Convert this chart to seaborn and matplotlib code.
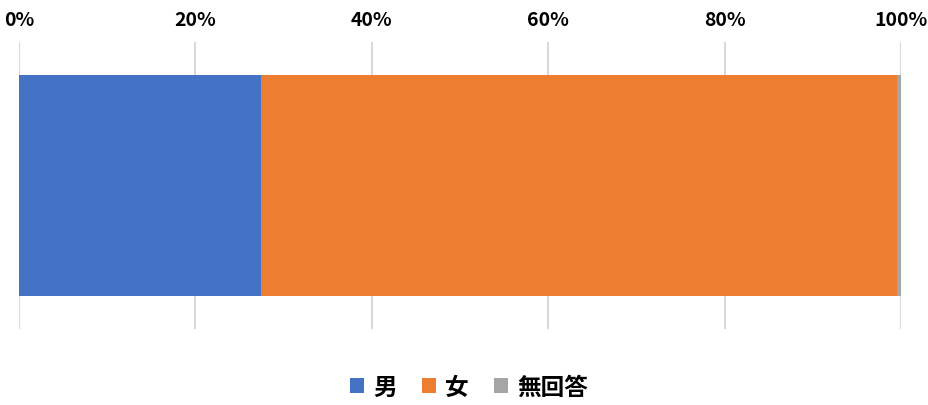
import numpy as np
import pandas as pd
import matplotlib
matplotlib.use("Agg")
import matplotlib.pyplot as plt
import seaborn as sns
from matplotlib.ticker import PercentFormatter
from matplotlib.patches import Patch

# data (share of respondents, %)
categories = ["男", "女", "無回答"]
shares = [27.4, 72.2, 0.4]
colors = ["#4472C4", "#ED7D31", "#A5A5A5"]
ticks = [0, 20, 40, 60, 80, 100]

sns.set_theme(style="white")
plt.rcParams['font.family'] = ['Noto Sans CJK JP', 'DejaVu Sans']
plt.rcParams['text.color'] = 'black'
plt.rcParams['xtick.color'] = 'black'

fig = plt.figure(figsize=(9.29, 4.06), dpi=100)
ax = fig.add_axes([19 / 929, 1 - 330 / 406, (901 - 19) / 929, (330 - 43) / 406])

# stacked bar: draw cumulative totals back to front
cum = np.cumsum(shares)
for i in range(len(categories) - 1, -1, -1):
    df = pd.DataFrame({"y": ["all"], "x": [cum[i]]})
    sns.barplot(data=df, x="x", y="y", color=colors[i], saturation=1,
                width=0.773, orient="h", ax=ax, zorder=2, linewidth=0)

ax.set_xlim(0, 100)
ax.set_ylim(0.5, -0.5)
ax.set_xticks(ticks)
ax.xaxis.set_major_formatter(PercentFormatter(decimals=0))
ax.xaxis.tick_top()
ax.tick_params(axis="x", length=0, pad=9, labelsize=14, labelcolor="black")
for lab in ax.get_xticklabels():
    lab.set_fontweight("bold")
ax.set_yticks([])
ax.set_xlabel("")
ax.set_ylabel("")
ax.grid(axis="x", color="#d9d9d9", linewidth=1.5, zorder=0)
ax.set_axisbelow(True)
for s in ax.spines.values():
    s.set_visible(False)

handles = [Patch(facecolor=c, edgecolor="none") for c in colors]
fig.legend(handles, categories, loc="center", bbox_to_anchor=(469 / 929, 1 - 388 / 406),
           ncol=3, frameon=False, prop={"weight": "bold", "size": 17},
           handlelength=0.6, handleheight=0.6, handletextpad=0.4, columnspacing=1.05)

fig.savefig("out.png", dpi=100)
